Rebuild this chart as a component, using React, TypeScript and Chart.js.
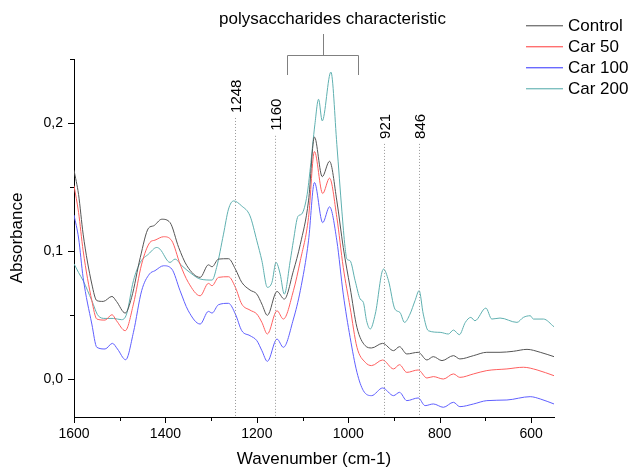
import React, { useEffect, useRef } from 'react';
import { Chart, registerables } from 'chart.js';

Chart.register(...registerables);

// ---- data (wavenumber in cm-1, absorbance) ----
const controlWn = [1600,1590,1580,1561,1550,1536,1517,1507,1488,1474,1455,1437,1426,1408,1390,1371,1353,1324,1306,1298,1284,1262,1247,1233,1215,1200,1189,1177,1156,1140,1120,1105,1087,1074,1057,1041,1025,1011,996,981,963,949,925,901,888,872,847,828,814,795,770,756,726,697,668,639,609,580,550];
const controlAbs = [0.163,0.144,0.113,0.074,0.061,0.0604,0.0643,0.0604,0.0513,0.0635,0.0948,0.1177,0.1195,0.1247,0.1221,0.1026,0.0883,0.0792,0.089,0.0875,0.0935,0.0938,0.0857,0.0753,0.0693,0.0661,0.0583,0.0495,0.0682,0.0622,0.0844,0.105,0.139,0.189,0.158,0.170,0.139,0.1026,0.0713,0.040,0.0258,0.024,0.0276,0.0219,0.025,0.0193,0.0206,0.0146,0.0172,0.0141,0.018,0.0154,0.018,0.0206,0.0206,0.0214,0.0229,0.0206,0.0172];

const car50Wn = [1600,1590,1580,1561,1550,1532,1517,1507,1488,1470,1452,1434,1423,1404,1386,1368,1350,1324,1306,1298,1284,1262,1247,1233,1215,1200,1189,1177,1156,1142,1120,1105,1087,1074,1056,1041,1025,1011,996,981,963,949,925,901,888,872,847,828,814,792,770,756,726,697,653,617,587,550];
const car50Abs = [0.151,0.13,0.100,0.061,0.0466,0.0458,0.05,0.0453,0.0375,0.0583,0.0896,0.1065,0.1083,0.111,0.1078,0.0896,0.0753,0.0648,0.0745,0.0727,0.0792,0.0797,0.0714,0.0583,0.0536,0.0505,0.044,0.0349,0.0531,0.0466,0.0688,0.0922,0.126,0.1776,0.1448,0.1568,0.126,0.087,0.0557,0.0245,0.0128,0.0102,0.0146,0.0076,0.0109,0.0049,0.0068,0.0005,0.0016,-0.0003,0.0037,0.001,0.0037,0.0063,0.0076,0.0089,0.0068,0.0023];

const car100Wn = [1600,1590,1580,1561,1550,1532,1516,1505,1487,1470,1452,1435,1423,1404,1386,1368,1350,1324,1306,1298,1284,1262,1247,1233,1215,1200,1189,1177,1156,1142,1120,1105,1087,1074,1056,1041,1025,1011,996,981,967,949,925,901,888,872,847,832,814,792,770,756,726,697,653,602,580,550];
const car100Abs = [0.128,0.110,0.079,0.0427,0.0245,0.0232,0.0276,0.0232,0.0148,0.0362,0.0688,0.0818,0.0844,0.0883,0.0857,0.0688,0.0531,0.0427,0.0526,0.0513,0.0578,0.0589,0.0505,0.0375,0.0336,0.0297,0.0219,0.0135,0.031,0.0245,0.0466,0.0688,0.1078,0.1534,0.122,0.1344,0.1078,0.0661,0.0323,0.0049,-0.0094,-0.0133,-0.0073,-0.0133,-0.0107,-0.0172,-0.0151,-0.0211,-0.0198,-0.0224,-0.0185,-0.0219,-0.0198,-0.0172,-0.0167,-0.0141,-0.0159,-0.0198];

const car200Wn = [1600,1590,1580,1561,1547,1532,1514,1496,1485,1470,1455,1437,1419,1412,1390,1379,1364,1342,1324,1298,1288,1273,1262,1251,1233,1215,1200,1189,1177,1167,1158,1149,1140,1127,1120,1110,1102,1090,1083,1073,1065,1057,1038,1025,1014,1007,1003,996,985,974,967,960,952,941,923,912,898,887,877,865,854,845,836,825,799,781,770,757,744,732,723,699,686,668,631,617,602,595,573,550];
const car200Abs = [0.0898,0.083,0.0766,0.061,0.0492,0.0471,0.0471,0.0461,0.0505,0.0766,0.0909,0.0974,0.1026,0.1013,0.0909,0.0935,0.0883,0.0818,0.0779,0.0771,0.087,0.113,0.1326,0.139,0.135,0.1273,0.1078,0.0922,0.0714,0.0753,0.0909,0.0818,0.0661,0.0922,0.108,0.127,0.1287,0.144,0.165,0.199,0.2185,0.2016,0.2398,0.183,0.131,0.1026,0.0935,0.0922,0.0766,0.0623,0.0596,0.0453,0.0388,0.0505,0.0857,0.0766,0.0544,0.0518,0.044,0.0505,0.061,0.0688,0.0505,0.0375,0.0362,0.0349,0.038,0.0344,0.044,0.0479,0.0453,0.0552,0.0466,0.0474,0.044,0.0479,0.0492,0.0466,0.0466,0.0406];

const seriesNames = ['Control', 'Car 50', 'Car 100', 'Car 200'];
const xTickValues = [1600, 1500, 1400, 1300, 1200, 1100, 1000, 900, 800, 700, 600];
const yTickValues = [0, 0.05, 0.1, 0.15, 0.2, 0.25];
const peakWn = [1248, 1160, 921, 846];
const peakLabels = ['1248', '1160', '921', '846'];
const bracketFromTo = [1134, 979];
const bracketLabel = 'polysaccharides characteristic';

// ---- styles ----
const COLORS = ['#555555', '#ff5f5f', '#5f5fff', '#5fb0b0'];
const LEGEND_COLORS = ['#7a7a7a', '#ff7070', '#6a6aff', '#7fc0c0'];
const FONT = '"Liberation Sans", Arial, sans-serif';
const peakLabelBase = [0.2078, 0.1938, 0.1875, 0.1875]; // absorbance level where the rotated label ends

const zip = (xs: number[], ys: number[]) => xs.map((x, i) => ({ x, y: ys[i] }));

const overlayPlugin = {
  id: 'overlay',
  afterDraw(chart: any) {
    const { ctx, chartArea, scales } = chart;
    const xs = scales.x;
    const ys = scales.y;
    ctx.save();

    // tick marks (major longer than minor)
    ctx.strokeStyle = '#000';
    ctx.lineWidth = 1;
    ctx.setLineDash([]);
    xTickValues.forEach((v) => {
      const px = Math.round(xs.getPixelForValue(v)) + 0.5;
      const len = v % 200 === 0 ? 6 : 4;
      ctx.beginPath();
      ctx.moveTo(px, chartArea.bottom);
      ctx.lineTo(px, chartArea.bottom + len);
      ctx.stroke();
    });
    yTickValues.forEach((v) => {
      const py = Math.round(ys.getPixelForValue(v)) + 0.5;
      const major = Math.abs(v * 10 - Math.round(v * 10)) < 1e-6;
      const len = major ? 6 : 4;
      ctx.beginPath();
      ctx.moveTo(chartArea.left, py);
      ctx.lineTo(chartArea.left - len, py);
      ctx.stroke();
    });

    // dotted peak markers + rotated labels
    ctx.font = `15px ${FONT}`;
    ctx.fillStyle = '#000';
    peakWn.forEach((wn, i) => {
      const px = Math.round(xs.getPixelForValue(wn)) + 0.5;
      const base = ys.getPixelForValue(peakLabelBase[i]);
      ctx.strokeStyle = '#999';
      ctx.setLineDash([1, 2]);
      ctx.beginPath();
      ctx.moveTo(px, base + 5);
      ctx.lineTo(px, chartArea.bottom);
      ctx.stroke();
      ctx.setLineDash([]);
      ctx.save();
      ctx.translate(px + 1, base);
      ctx.rotate(-Math.PI / 2);
      ctx.textAlign = 'left';
      ctx.textBaseline = 'middle';
      ctx.fillText(peakLabels[i], 0, 0);
      ctx.restore();
    });

    // bracket
    const bx1 = Math.round(xs.getPixelForValue(bracketFromTo[0])) + 0.5;
    const bx2 = Math.round(xs.getPixelForValue(bracketFromTo[1])) + 0.5;
    const bmid = Math.round((bx1 + bx2) / 2) + 0.5;
    const by = chartArea.top - 3.5;
    ctx.strokeStyle = '#808080';
    ctx.lineWidth = 1;
    ctx.beginPath();
    ctx.moveTo(bx1, chartArea.top + 16);
    ctx.lineTo(bx1, by);
    ctx.lineTo(bx2, by);
    ctx.lineTo(bx2, chartArea.top + 16);
    ctx.moveTo(bmid, by);
    ctx.lineTo(bmid, chartArea.top - 25);
    ctx.stroke();
    ctx.font = `17px ${FONT}`;
    ctx.fillStyle = '#000';
    ctx.textAlign = 'center';
    ctx.textBaseline = 'middle';
    ctx.fillText(bracketLabel, bmid + 9, chartArea.top - 40);

    // legend
    ctx.font = `17px ${FONT}`;
    ctx.textAlign = 'left';
    ctx.textBaseline = 'middle';
    seriesNames.forEach((name, i) => {
      const rowY = 25 + i * 21;
      ctx.fillStyle = LEGEND_COLORS[i];
      ctx.fillRect(526, Math.round(rowY), 37, 1.4);
      ctx.fillStyle = '#000';
      ctx.fillText(name, 568, rowY + 1);
    });
    ctx.restore();
  },
};

export default function App() {
  const canvasRef = useRef<HTMLCanvasElement | null>(null);

  useEffect(() => {
    const canvas = canvasRef.current;
    if (!canvas) return;
    const seriesWn = [controlWn, car50Wn, car100Wn, car200Wn];
    const seriesAbs = [controlAbs, car50Abs, car100Abs, car200Abs];
    const chart = new Chart(canvas, {
      type: 'line',
      data: {
        datasets: seriesNames.map((name, i) => ({
          label: name,
          data: zip(seriesWn[i], seriesAbs[i]),
          borderColor: COLORS[i],
          backgroundColor: COLORS[i],
          borderWidth: 1,
          pointRadius: 0,
          fill: false,
          cubicInterpolationMode: 'monotone' as const,
        })),
      },
      options: {
        responsive: false,
        animation: false,
        layout: { padding: { top: 59, right: 76, left: 0, bottom: 0 } },
        plugins: { legend: { display: false }, tooltip: { enabled: false } },
        scales: {
          x: {
            type: 'linear',
            min: 550,
            max: 1600,
            reverse: true,
            afterFit: (s: any) => { s.height = 53; },
            afterBuildTicks: (s: any) => { s.ticks = xTickValues.map((v) => ({ value: v })); },
            grid: { display: true, drawOnChartArea: false, drawTicks: false },
            border: { display: true, color: '#000', width: 1 },
            ticks: {
              autoSkip: false,
              maxRotation: 0,
              padding: 9,
              color: '#000',
              font: { family: FONT, size: 14 },
              callback: (v: any) => (Number(v) % 200 === 0 ? String(v) : ''),
            },
            title: {
              display: true,
              text: 'Wavenumber (cm-1)',
              color: '#000',
              font: { family: FONT, size: 17 },
              padding: { top: 0, bottom: 0 },
            },
          },
          y: {
            type: 'linear',
            min: -0.03,
            max: 0.25,
            afterFit: (s: any) => { s.width = 74; },
            afterBuildTicks: (s: any) => { s.ticks = yTickValues.map((v) => ({ value: v })); },
            grid: { display: true, drawOnChartArea: false, drawTicks: false },
            border: { display: true, color: '#000', width: 1 },
            ticks: {
              autoSkip: false,
              padding: 11,
              color: '#000',
              font: { family: FONT, size: 14 },
              callback: (v: any) => {
                const n = Number(v);
                return Math.abs(n * 10 - Math.round(n * 10)) < 1e-6 ? n.toFixed(1).replace('.', ',') : '';
              },
            },
            title: {
              display: true,
              text: 'Absorbance',
              color: '#000',
              font: { family: FONT, size: 17 },
              padding: { top: 7, bottom: 0 },
            },
          },
        },
      },
      plugins: [overlayPlugin],
    });
    return () => chart.destroy();
  }, []);

  return (
    <div style={{ position: 'absolute', left: 0, top: 0, width: 630, height: 470, background: '#fff' }}>
      <canvas ref={canvasRef} width={630} height={470} />
    </div>
  );
}
